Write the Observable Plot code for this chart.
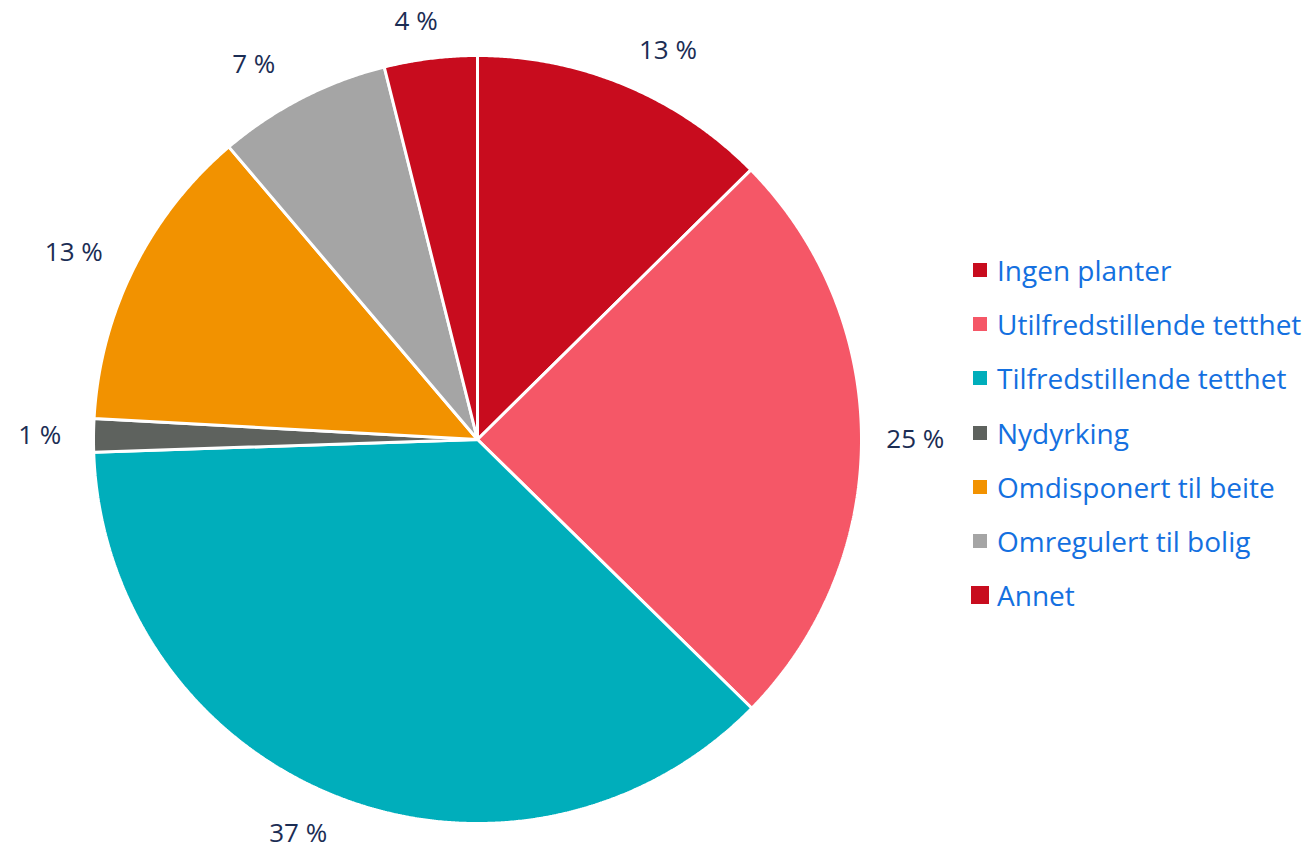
<!DOCTYPE html>
<html>
<head>
<meta charset="utf-8">
<script src="https://cdn.jsdelivr.net/npm/d3@7"></script>
<script src="https://cdn.jsdelivr.net/npm/@observablehq/plot@0.6"></script>
<style>
  html, body { margin: 0; padding: 0; background: #fff; }
  #wrap { position: relative; width: 1308px; height: 849px; font-family: "Open Sans", sans-serif; }
  #legend { position: absolute; left: 971px; top: 243px; }
  .item { display: flex; align-items: center; height: 54.2px; font-size: 28px; color: #1470e0; white-space: nowrap; }
  .sw { width: 14px; height: 14px; margin-left: 2px; margin-right: 10px; }
  .item:last-child .sw { width: 18px; height: 18px; margin-left: 0; margin-right: 8px; }
</style>
</head>
<body>
<div id="wrap"></div>
<script>
const categories = ["Ingen planter", "Utilfredstillende tetthet", "Tilfredstillende tetthet", "Nydyrking", "Omdisponert til beite", "Omregulert til bolig", "Annet"];
const shares = [12.6, 24.7, 37.1, 1.4, 12.9, 7.3, 3.9];
const colors = ["#c80c1e", "#f55767", "#00aebb", "#5e625e", "#f29200", "#a5a5a5", "#c80c1e"];

const data = categories.map((c, i) => ({cat: c, value: shares[i]}));
const arcs = d3.pie().sort(null).value(d => d.value)(data);

// polygon outline points for each slice (center -> arc -> center)
const pts = [];
arcs.forEach(a => {
  const cat = a.data.cat;
  pts.push({cat, x: 0, y: 0});
  const n = Math.max(2, Math.ceil((a.endAngle - a.startAngle) / 0.005));
  for (let k = 0; k <= n; k++) {
    const t = a.startAngle + (a.endAngle - a.startAngle) * k / n;
    pts.push({cat, x: Math.sin(t), y: Math.cos(t)});
  }
  pts.push({cat, x: 0, y: 0});
});

const labels = arcs.map(a => {
  const m = (a.startAngle + a.endAngle) / 2;
  const c = Math.cos(m);
  const rx = 1.14 + 0.17 * c * c;
  const ry = 1.1;
  return {x: Math.sin(m) * rx, y: Math.cos(m) * ry, text: Math.round(a.data.value) + " %"};
});

const chart = Plot.plot({
  width: 1308,
  height: 849,
  marginLeft: 93,
  marginRight: 447,
  marginTop: 55,
  marginBottom: 26,
  x: {domain: [-1, 1], axis: null},
  y: {domain: [-1, 1], axis: null},
  color: {domain: categories, range: colors},
  style: {fontFamily: "Open Sans, sans-serif", background: "white"},
  marks: [
    Plot.line(pts, {x: "x", y: "y", z: "cat", fill: "cat", stroke: "white", strokeWidth: 3, strokeLinejoin: "miter", curve: "linear"}),
    Plot.text(labels, {x: "x", y: "y", dy: 1, text: "text", fontSize: 26, fill: "#1b2d54"})
  ]
});

const wrap = document.getElementById("wrap");
wrap.appendChild(chart);

const legend = d3.select(wrap).append("div").attr("id", "legend");
const items = legend.selectAll(".item").data(categories).join("div").attr("class", "item");
items.append("div").attr("class", "sw").style("background", (d, i) => colors[i]);
items.append("span").text(d => d);
</script>
</body>
</html>
